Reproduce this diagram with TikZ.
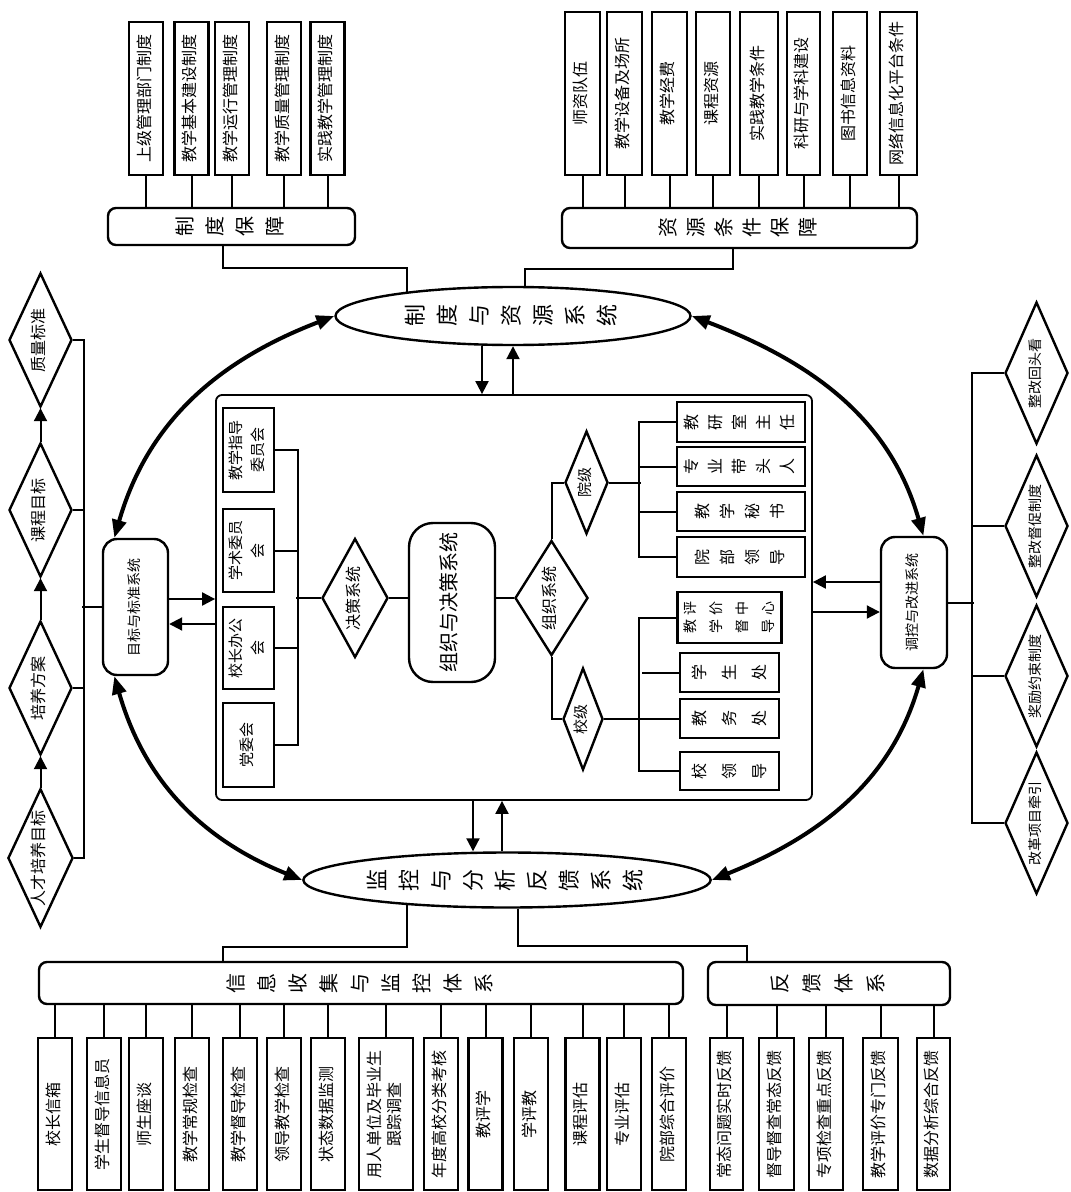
\documentclass[tikz,border=0pt]{standalone}
\usepackage{graphicx}
\usepackage{fontspec}
\setmainfont{Noto Sans CJK SC}
\usetikzlibrary{arrows.meta,shapes.geometric}

\newcommand{\rtext}[1]{\rotatebox{90}{\begin{tabular}{@{}c@{}}#1\end{tabular}}}

\begin{document}
\begin{tikzpicture}[x=0.5pt,y=0.5pt,
    rbox/.style={draw,line width=1.2pt,inner sep=0pt,font=\fontsize{8}{10}\selectfont},
    hbar/.style={rbox,rounded corners=4pt,font=\fontsize{10}{15}\selectfont},
    sysell/.style={ellipse,draw,line width=1.2pt,inner sep=0pt,font=\fontsize{11}{16}\selectfont},
    capsn/.style={draw,line width=1.2pt,rounded corners=7pt,inner sep=0pt,font=\fontsize{7}{9}\selectfont},
    dmd/.style={diamond,draw,line width=1.2pt,inner sep=0pt,font=\fontsize{8}{10}\selectfont},
    conn/.style={line width=1pt},
    sarr/.style={line width=1pt,-{Triangle[length=6.5pt,width=6.5pt]}},
    bigarr/.style={line width=2pt,{Triangle[length=9pt,width=7pt]}-{Triangle[length=9pt,width=7pt]}}]
\useasboundingbox (0,0) rectangle (1070,-1192);

% top
\node[hbar,minimum width=123.5pt,minimum height=18.5pt] (zdbz) at (231.5,-226.5) {\rtext{制\\度\\保\\障}};
\foreach \n/\x/\lab in {1/146/上级管理部门制度,2/191.5/教学基本建设制度,3/232/教学运行管理制度,4/284/教学质量管理制度,5/327.5/实践教学管理制度}{
    \node[rbox,minimum width=17pt,minimum height=76.5pt] (zd\n) at (\x,-98.5) {\rtext{\lab}};
    \draw[conn] (zd\n.south) -- (zd\n.south |- zdbz.north);
}
\node[hbar,minimum width=177.5pt,minimum height=20pt,font=\fontsize{10}{14}\selectfont] (zybz) at (739.5,-228) {\rtext{资\\源\\条\\件\\保\\障}};
\foreach \n/\x/\w/\lab in {1/582.5/17.5/师资队伍,2/624.5/17.5/教学设备及场所,3/669.5/17.5/教学经费,4/713/17/课程资源,5/759/19/实践教学条件,6/803.5/16.5/科研与学科建设,7/850/17/图书信息资料,8/898.5/18.5/网络信息化平台条件}{
    \node[rbox,minimum width=\w pt,minimum height=81.5pt] (zy\n) at (\x,-93.5) {\rtext{\lab}};
    \draw[conn] (zy\n.south) -- (zy\n.south |- zybz.north);
}
\node[sysell,minimum width=177.5pt,minimum height=29pt] (zhidu) at (513,-316) {\rtext{制\\度\\与\\资\\源\\系\\统}};
\draw[conn] ([xshift=-4.25pt]zdbz.south) -- ++(0,-22) -| (zhidu.167.4);
\draw[conn] ([xshift=-3.25pt]zybz.south) -- ++(0,-20) -| ([xshift=6pt]zhidu.north);

% centre
\node[draw,line width=0.9pt,rounded corners=3pt,minimum width=298pt,minimum height=202.5pt] (inner) at (514,-597.5) {};
\coordinate (za) at ([xshift=-15.5pt]zhidu.south);
\draw[sarr] (za) -- (za |- inner.north);
\draw[sarr] (zhidu.south |- inner.north) -- (zhidu.south);

\node[rbox,minimum width=25.5pt,minimum height=42pt,font=\fontsize{7.5}{11}\selectfont] (jxzd) at (248.5,-450) {\rtext{教学指导\\委员会}};
\node[rbox,minimum width=25.5pt,minimum height=41.5pt,font=\fontsize{7.5}{11}\selectfont] (xswy) at (248.5,-550.5) {\rtext{学术委员\\会}};
\node[rbox,minimum width=25.5pt,minimum height=41pt,font=\fontsize{7.5}{11}\selectfont] (xzbg) at (248.5,-648) {\rtext{校长办公\\会}};
\node[rbox,minimum width=25.5pt,minimum height=42pt,font=\fontsize{7.5}{11}\selectfont] (dwh) at (248.5,-745) {\rtext{党委会}};
\draw[conn] (jxzd.east) -- ++(23,0) |- (dwh.east);
\draw[conn] (xswy.east) -- ++(23,0);
\draw[conn] (xzbg.east) -- ++(23,0);

\node[dmd,aspect=0.55,minimum width=33pt,minimum height=59.5pt] (jc) at (355,-598) {\rtext{决策系统}};
\draw[conn] (jc.west) -- ++(-25,0);
\node[capsn,rounded corners=12pt,minimum width=43pt,minimum height=79.5pt,font=\fontsize{10}{12}\selectfont] (zz) at (452,-602.5) {\rtext{组织与决策系统}};
\draw[conn] (jc.east) -- (jc.east -| zz.west);
\node[dmd,aspect=0.63,minimum width=36.5pt,minimum height=57.5pt] (zuzhi) at (551.5,-598) {\rtext{组织系统}};
\draw[conn] (zz.east |- zuzhi.west) -- (zuzhi.west);

\node[dmd,aspect=0.42,minimum width=21.5pt,minimum height=51.5pt,font=\fontsize{7.5}{9}\selectfont] (yuanji) at (586.5,-482.5) {\rtext{院级}};
\node[dmd,aspect=0.42,minimum width=20pt,minimum height=51pt,font=\fontsize{7.5}{9}\selectfont] (xiaoji) at (583,-719) {\rtext{校级}};
\draw[conn] (zuzhi.north) |- (yuanji.west);
\draw[conn] (zuzhi.south) |- (xiaoji.west);

\node[rbox,minimum width=64pt,minimum height=20pt,font=\fontsize{8}{12}\selectfont] (jysz) at (741,-422) {\rtext{教\\研\\室\\主\\任}};
\node[rbox,minimum width=64pt,minimum height=19.5pt,font=\fontsize{8}{12}\selectfont] (zydt) at (741,-466.5) {\rtext{专\\业\\带\\头\\人}};
\node[rbox,minimum width=64pt,minimum height=19.5pt,font=\fontsize{8}{12.5}\selectfont] (jxms) at (741,-511.5) {\rtext{教\\学\\秘\\书}};
\node[rbox,minimum width=64pt,minimum height=20pt,font=\fontsize{8}{12.5}\selectfont] (ybld) at (741,-557) {\rtext{院\\部\\领\\导}};
\draw[conn] (jysz.west) -- ++(-37,0) |- (ybld.west);
\draw[conn] (zydt.west) -- ++(-37,0);
\draw[conn] (jxms.west) -- ++(-37,0);
\draw[conn] (yuanji.east) -- ++(32,0);

\node[rbox,minimum width=49.5pt,minimum height=25.5pt,font=\fontsize{7}{13}\selectfont] (jxdd) at (729.5,-617.5) {\rotatebox{90}{\setlength{\tabcolsep}{1pt}\begin{tabular}{cc}教&评\\学&价\\督&中\\导&心\end{tabular}}};
\node[rbox,minimum width=49.5pt,minimum height=19.5pt,font=\fontsize{8}{15}\selectfont] (xsc) at (729.5,-672.5) {\rtext{学\\生\\处}};
\node[rbox,minimum width=49.5pt,minimum height=19.5pt,font=\fontsize{8}{15}\selectfont] (jwc) at (729.5,-718.5) {\rtext{教\\务\\处}};
\node[rbox,minimum width=49.5pt,minimum height=19pt,font=\fontsize{8}{15}\selectfont] (xld) at (729.5,-771) {\rtext{校\\领\\导}};
\draw[conn] (jxdd.west) -- ++(-37,0) |- (xld.west);
\draw[conn] (xsc.west) -- ++(-37,0);
\draw[conn] (jwc.west) -- ++(-37,0);
\draw[conn] (xiaoji.east) -- ++(40,0);

% left
\node[capsn,minimum width=32.5pt,minimum height=68pt] (mubiao) at (135.5,-607) {\rtext{目标与标准系统}};
\draw[sarr] ([yshift=4pt]mubiao.east) -- ([yshift=4pt]mubiao.east -| inner.west);
\draw[sarr] ([yshift=-8.5pt]mubiao.east -| inner.west) -- ([yshift=-8.5pt]mubiao.east);
\node[dmd,aspect=0.47,minimum width=31.5pt,minimum height=67pt] (zlbz) at (40.5,-340) {\rtext{质量标准}};
\node[dmd,aspect=0.47,minimum width=31.5pt,minimum height=67pt] (kcmb) at (40.5,-510) {\rtext{课程目标}};
\node[dmd,aspect=0.47,minimum width=31.5pt,minimum height=67pt] (pyfa) at (40.5,-688) {\rtext{培养方案}};
\node[dmd,aspect=0.47,minimum width=31.5pt,minimum height=67pt] (rcmb) at (40.5,-858) {\rtext{人才培养目标}};
\draw[sarr] (rcmb.north) -- (pyfa.south);
\draw[sarr] (pyfa.north) -- (kcmb.south);
\draw[sarr] (kcmb.north) -- (zlbz.south);
\draw[conn] (zlbz.east) -- ++(11,0) |- (rcmb.east);
\draw[conn] (kcmb.east) -- ++(11,0);
\draw[conn] (pyfa.east) -- ++(11,0);
\draw[conn] (mubiao.west) -- ++(-20,0);

% right
\node[capsn,minimum width=33pt,minimum height=65.5pt] (tiaokong) at (914,-602.5) {\rtext{调控与改进系统}};
\draw[sarr] ([yshift=10.25pt]tiaokong.west) -- ([yshift=10.25pt]tiaokong.west -| inner.east);
\draw[sarr] ([yshift=-4.75pt]tiaokong.west -| inner.east) -- ([yshift=-4.75pt]tiaokong.west);
\node[dmd,aspect=0.44,minimum width=31.5pt,minimum height=71pt,font=\fontsize{7}{9}\selectfont] (zghtk) at (1036.5,-373) {\rtext{整改回头看}};
\node[dmd,aspect=0.44,minimum width=31.5pt,minimum height=71pt,font=\fontsize{7}{9}\selectfont] (zgdc) at (1036.5,-526) {\rtext{整改督促制度}};
\node[dmd,aspect=0.44,minimum width=31.5pt,minimum height=71pt,font=\fontsize{7}{9}\selectfont] (jlys) at (1036.5,-676) {\rtext{奖励约束制度}};
\node[dmd,aspect=0.44,minimum width=31.5pt,minimum height=71pt,font=\fontsize{7}{9}\selectfont] (ggxm) at (1036.5,-823) {\rtext{改革项目牵引}};
\draw[conn] (zghtk.west) -- ++(-32,0) |- (ggxm.west);
\draw[conn] (zgdc.west) -- ++(-32,0);
\draw[conn] (jlys.west) -- ++(-32,0);
\draw[conn] (tiaokong.east) -- ++(26,0);

% bottom
\node[sysell,minimum width=175pt,minimum height=27.5pt] (jiankong) at (507,-880) {\rtext{监\\控\\与\\分\\析\\反\\馈\\系\\统}};
\coordinate (ja) at ([xshift=-17pt]jiankong.north);
\coordinate (jb) at ([xshift=-2.5pt]jiankong.north);
\draw[sarr] (ja |- inner.south) -- (ja);
\draw[sarr] (jb) -- (jb |- inner.south);

\node[hbar,minimum width=322pt,minimum height=21pt,font=\fontsize{10}{15.5}\selectfont] (xinxi) at (361,-983) {\rtext{信\\息\\收\\集\\与\\监\\控\\体\\系}};
\node[hbar,minimum width=121pt,minimum height=21.5pt,font=\fontsize{10}{16}\selectfont] (fankui) at (829,-983.5) {\rtext{反\\馈\\体\\系}};
\draw[conn] (jiankong.194.3) -- ++(0,-41.5) -| ([xshift=-69pt]xinxi.north);
\draw[conn] ([xshift=5.5pt]jiankong.south) -- ++(0,-37.5) -| ([xshift=-41pt]fankui.north);
\foreach \n/\x/\w/\lab in {1/55/17/校长信箱,2/104/17/学生督导信息员,3/146/17/师生座谈,4/192/17/教学常规检查,5/240/17/教学督导检查,6/284/17/领导教学检查,7/328/17/状态数据监测,8/386/27.25/用人单位及毕业生\\跟踪调查,9/441/17/年度高校分类考核,10/485.5/17/教评学,11/531/17/学评教,12/582.5/17/课程评估,13/624/17/专业评估,14/669/17/院部综合评价}{
    \node[rbox,minimum width=\w pt,minimum height=76pt] (xx\n) at (\x,-1114) {\rtext{\lab}};
    \draw[conn] (xx\n.north) -- (xx\n.north |- xinxi.south);
}
\foreach \n/\x/\w/\lab in {1/726.5/16.5/常态问题实时反馈,2/776.5/17.5/督导督查常态反馈,3/826/17/专项检查重点反馈,4/880.5/17.5/教学评价专门反馈,5/933.5/16.5/数据分析综合反馈}{
    \node[rbox,minimum width=\w pt,minimum height=76pt] (fk\n) at (\x,-1114) {\rtext{\lab}};
    \draw[conn] (fk\n.north) -- (fk\n.north |- fankui.south);
}

% loop
\draw[bigarr] (zhidu.west) to[out=201,in=74] (mubiao.107);
\draw[bigarr] (jiankong.west) to[out=158,in=-74] (mubiao.253);
\draw[bigarr] (zhidu.east) to[out=-21,in=106] (tiaokong.82);
\draw[bigarr] (jiankong.east) to[out=22,in=-106] (tiaokong.278);
\end{tikzpicture}
\end{document}
